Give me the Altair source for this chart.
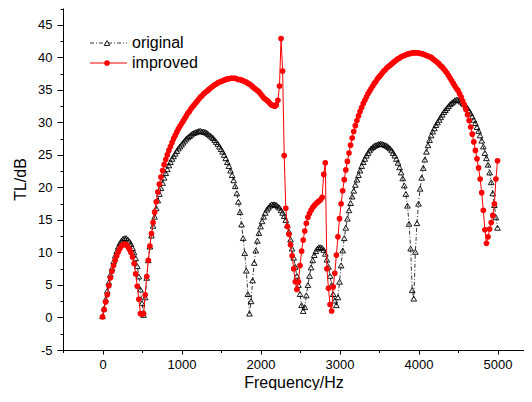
import altair as alt
import pandas as pd

# Frequency grid (Hz), 20 Hz steps as in the measured data
freq = list(range(0, 5001, 20))

original = [
    0.2, 1.4, 2.8, 4.1, 5.4, 6.6, 7.6, 8.6, 9.5, 10.2,
    10.9, 11.4, 11.8, 12.1, 12.2, 12.2, 12.0, 11.7, 11.3, 10.7,
    10.0, 9.1, 7.9, 6.3, 4.3, 2.2, 0.4, 3.1, 6.1, 8.8,
    10.9, 12.6, 14.1, 15.5, 16.8, 18.0, 19.0, 19.9, 20.7, 21.5,
    22.2, 22.8, 23.4, 23.9, 24.4, 24.8, 25.2, 25.6, 26.0, 26.3,
    26.6, 26.9, 27.2, 27.5, 27.7, 27.9, 28.1, 28.3, 28.4, 28.5,
    28.6, 28.7, 28.7, 28.6, 28.6, 28.5, 28.4, 28.2, 28.0, 27.8,
    27.6, 27.3, 27.0, 26.7, 26.3, 25.9, 25.5, 25.0, 24.5, 23.9,
    23.3, 22.6, 21.9, 21.1, 20.2, 19.1, 17.8, 16.2, 14.3, 12.2,
    9.9, 7.2, 3.6, 0.6, 2.5, 5.7, 8.4, 10.3, 11.8, 13.0,
    14.0, 14.8, 15.5, 16.1, 16.6, 16.9, 17.2, 17.4, 17.4, 17.4,
    17.3, 17.1, 16.9, 16.5, 16.1, 15.6, 15.0, 14.2, 13.2, 12.0,
    10.6, 9.2, 7.8, 6.4, 5.0, 3.6, 1.9, 1.0, 1.6, 3.4,
    5.0, 6.4, 7.7, 8.8, 9.6, 10.2, 10.6, 10.8, 10.8, 10.7,
    10.4, 9.8, 8.9, 7.8, 6.4, 5.0, 3.6, 2.6, 1.9, 3.1,
    5.5, 8.0, 10.3, 12.2, 13.8, 15.2, 16.5, 17.6, 18.6, 19.5,
    20.4, 21.2, 21.9, 22.6, 23.3, 23.9, 24.4, 24.9, 25.3, 25.7,
    26.0, 26.2, 26.4, 26.5, 26.6, 26.7, 26.7, 26.7, 26.6, 26.5,
    26.4, 26.2, 26.0, 25.7, 25.3, 24.9, 24.4, 23.8, 23.1, 22.3,
    21.4, 20.3, 19.0, 17.2, 14.4, 10.6, 4.2, 2.9, 10.1, 14.5,
    17.5, 19.8, 21.5, 23.0, 24.3, 25.5, 26.5, 27.3, 28.0, 28.6,
    29.1, 29.6, 30.0, 30.4, 30.8, 31.2, 31.6, 31.9, 32.2, 32.5,
    32.8, 33.0, 33.2, 33.4, 33.5, 33.5, 33.4, 33.2, 33.0, 32.8,
    32.5, 32.2, 31.8, 31.4, 30.9, 30.4, 29.9, 29.3, 28.7, 28.0,
    27.2, 26.3, 25.3, 24.5, 23.5, 22.3, 20.8, 19.1, 17.3, 15.4,
    13.8,
]

improved = [
    0.1, 1.2, 2.4, 3.5, 4.9, 6.1, 7.1, 8.0, 8.8, 9.5,
    10.1, 10.6, 11.0, 11.2, 11.3, 11.2, 10.9, 10.5, 10.0, 9.3,
    8.3, 6.7, 4.8, 2.8, 0.6, 0.5, 0.6, 3.5, 6.3, 8.8,
    11.0, 12.9, 14.6, 16.2, 17.8, 19.3, 20.5, 21.6, 22.6, 23.5,
    24.3, 25.0, 25.7, 26.3, 26.9, 27.5, 28.0, 28.5, 29.0, 29.4,
    29.8, 30.2, 30.6, 31.0, 31.4, 31.7, 32.1, 32.4, 32.7, 33.0,
    33.3, 33.6, 33.9, 34.1, 34.4, 34.6, 34.8, 35.0, 35.2, 35.4,
    35.6, 35.8, 35.9, 36.1, 36.2, 36.3, 36.4, 36.5, 36.6, 36.7,
    36.7, 36.8, 36.8, 36.8, 36.8, 36.7, 36.6, 36.6, 36.5, 36.4,
    36.3, 36.2, 36.0, 35.9, 35.7, 35.5, 35.3, 35.1, 34.9, 34.7,
    34.4, 34.1, 33.8, 33.6, 33.4, 33.2, 32.9, 32.7, 32.6, 32.5,
    32.7, 33.4, 35.6, 42.9, 37.9, 24.9, 16.8, 14.0, 12.8, 11.2,
    9.5, 7.5, 5.5, 4.3, 5.5, 8.0, 10.2, 11.9, 13.3, 14.5,
    15.4, 16.0, 16.5, 16.9, 17.2, 17.5, 17.7, 17.9, 18.1, 18.5,
    22.0, 23.8, 7.5, 4.5, 2.0, 1.0, 4.7, 6.8, 9.6, 12.4,
    15.2, 17.5, 19.5, 21.2, 22.7, 24.0, 25.3, 26.5, 27.6, 28.6,
    29.5, 30.3, 31.0, 31.7, 32.3, 32.9, 33.4, 33.9, 34.4, 34.8,
    35.2, 35.6, 36.0, 36.3, 36.7, 37.0, 37.3, 37.6, 37.9, 38.1,
    38.4, 38.6, 38.8, 39.0, 39.2, 39.4, 39.6, 39.8, 39.9, 40.1,
    40.2, 40.3, 40.4, 40.5, 40.6, 40.6, 40.7, 40.7, 40.7, 40.7,
    40.7, 40.6, 40.6, 40.5, 40.4, 40.3, 40.2, 40.1, 40.0, 39.8,
    39.6, 39.4, 39.2, 39.0, 38.7, 38.5, 38.2, 37.9, 37.6, 37.2,
    36.8, 36.4, 36.0, 35.6, 35.2, 34.9, 34.4, 33.9, 33.3, 32.7,
    32.0, 31.2, 30.3, 29.3, 28.2, 27.0, 25.7, 24.4, 23.0, 21.3,
    19.2, 16.5, 13.5, 11.4, 12.4, 13.6, 14.6, 15.7, 17.5, 21.3,
    24.1,
]

series_names = ["original", "improved"]
x_major = [0, 1000, 2000, 3000, 4000, 5000]
x_minor = [-500, 500, 1500, 2500, 3500, 4500]
y_major = [-5, 0, 5, 10, 15, 20, 25, 30, 35, 40, 45]
y_minor = [-2.5, 2.5, 7.5, 12.5, 17.5, 22.5, 27.5, 32.5, 37.5, 42.5, 47.5]

df = pd.DataFrame({"f": freq, "orig": original, "impr": improved})
one = pd.DataFrame({"k": [0]})

FONT = "Liberation Sans"
xscale = alt.Scale(domain=[-500, 5335], nice=False, zero=False)
yscale = alt.Scale(domain=[-5, 47.6], nice=False, zero=False)

x_ax = alt.Axis(values=x_major, orient="bottom", title="Frequency/Hz", grid=False,
                tickSize=4, labelPadding=4, labelFont=FONT, labelFontSize=13,
                labelColor="black", titleFont=FONT, titleFontSize=16,
                titleFontWeight="normal", titleColor="black", titlePadding=3,
                domainColor="black", tickColor="black", labelExpr="datum.value + ''")
y_ax = alt.Axis(values=y_major, orient="left", title="TL/dB", grid=False,
                tickSize=6, labelPadding=5, labelFont=FONT, labelFontSize=13,
                labelColor="black", titleFont=FONT, titleFontSize=16,
                titleFontWeight="normal", titleColor="black", titlePadding=9,
                domainColor="black", tickColor="black", labelExpr="datum.value + ''")
x_ax_minor = alt.Axis(values=x_minor, orient="bottom", title=None, grid=False,
                      labels=False, domain=False, tickSize=2.5, tickColor="black")
y_ax_minor = alt.Axis(values=y_minor, orient="left", title=None, grid=False,
                      labels=False, domain=False, tickSize=3, tickColor="black")

base = alt.Chart(df)

orig_line = base.mark_line(color="black", strokeWidth=0.8, strokeDash=[4, 2, 1, 2]).encode(
    x=alt.X("f:Q", scale=xscale, axis=x_ax),
    y=alt.Y("orig:Q", scale=yscale, axis=y_ax),
)
orig_pts = base.mark_point(shape="triangle-up", filled=False, color="black",
                           size=32, strokeWidth=0.9, opacity=1).encode(
    x=alt.X("f:Q", scale=xscale, axis=None),
    y=alt.Y("orig:Q", scale=yscale, axis=None),
)
impr_line = base.mark_line(color="#ff0000", strokeWidth=1.0).encode(
    x=alt.X("f:Q", scale=xscale, axis=x_ax_minor),
    y=alt.Y("impr:Q", scale=yscale, axis=y_ax_minor),
)
impr_pts = base.mark_point(shape="circle", filled=True, color="#ff0000",
                           size=32, opacity=1).encode(
    x=alt.X("f:Q", scale=xscale, axis=None),
    y=alt.Y("impr:Q", scale=yscale, axis=None),
)

leg = alt.Chart(one)
leg_o_line = leg.mark_rule(color="black", strokeWidth=0.8, strokeDash=[4, 2, 1, 2]).encode(
    x=alt.value(27), x2=alt.value(64), y=alt.value(35))
leg_o_pt = leg.mark_point(shape="triangle-up", filled=False, color="black", size=32,
                          strokeWidth=0.9, opacity=1).encode(x=alt.value(44), y=alt.value(35))
leg_o_txt = leg.mark_text(align="left", baseline="middle", font=FONT, fontSize=16,
                          color="black", text=series_names[0]).encode(x=alt.value(69), y=alt.value(35))
leg_i_line = leg.mark_rule(color="#ff0000", strokeWidth=1.0).encode(
    x=alt.value(27), x2=alt.value(64), y=alt.value(55))
leg_i_pt = leg.mark_point(shape="circle", filled=True, color="#ff0000", size=32,
                          opacity=1).encode(x=alt.value(44), y=alt.value(55))
leg_i_txt = leg.mark_text(align="left", baseline="middle", font=FONT, fontSize=16,
                          color="black", text=series_names[1]).encode(x=alt.value(69), y=alt.value(55))

chart = alt.layer(
    orig_line, orig_pts, impr_line, impr_pts,
    leg_o_line, leg_o_pt, leg_o_txt, leg_i_line, leg_i_pt, leg_i_txt,
).resolve_axis(x="independent", y="independent").properties(
    width=461, height=342,
    padding={"left": 55, "top": 0, "right": 0, "bottom": 40},
    autosize=alt.AutoSizeParams(type="none"),
    background="white",
).configure_view(stroke=None)

chart.save("out.html", embed_options={"renderer": "svg", "actions": False})
